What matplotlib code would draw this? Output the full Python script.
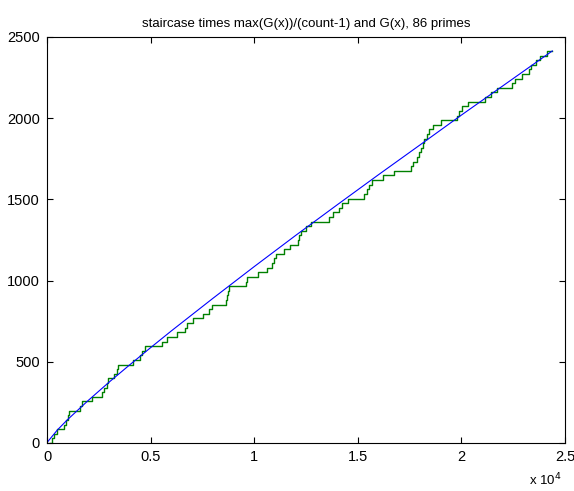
import numpy as np
import matplotlib
matplotlib.use("Agg")
import matplotlib.pyplot as plt

plt.rcParams["font.family"] = ["Liberation Sans", "DejaVu Sans"]

# x positions of the 86 steps
step_x = [145, 257, 354, 483, 837, 917, 998, 1062, 1593, 1673,
          2155, 2638, 2750, 2880, 2944, 3233, 3362, 3443, 4150, 4470,
          4600, 4714, 5535, 5806, 6259, 6660, 6742, 7061, 7544, 7833,
          7948, 8638, 8690, 8730, 8770, 9590, 9640, 10200, 10620, 10850,
          10950, 11030, 11440, 11750, 12110, 12150, 12240, 12500, 12727, 13620,
          13800, 14100, 14260, 14550, 15300, 15440, 15555, 15685, 16215, 16730,
          17550, 17647, 17872, 17970, 18035, 18130, 18195, 18325, 18450, 18645,
          19000, 19770, 19900, 20012, 20340, 21140, 21410, 21730, 22440, 22570,
          22923, 23247, 23343, 23585, 23807, 24115]
x_end = 24387

# smooth curve G(x), sampled from the blue line
g_x = [2, 500, 1000, 2000, 3000, 4000, 5000, 6000, 8000, 10000,
       12000, 14000, 16000, 18000, 20000, 22000, 24387]
g_y = [3, 80, 145, 263, 375, 482, 587, 690, 890, 1086,
       1278, 1466, 1652, 1835, 2019, 2199, 2414]

count = len(step_x)
scale = max(g_y) / (count - 1)
stair_x = step_x + [x_end]
stair_y = [k * scale for k in range(count)] + [(count - 1) * scale]

fig = plt.figure(figsize=(5.74, 4.91), dpi=100)
ax = fig.add_axes([0.0819, 0.0978, 0.9024, 0.8269])

ax.step(stair_x, stair_y, where="post", color="#008000", lw=1.0)
ax.plot(g_x, g_y, color="#0000ff", lw=0.8)

ax.set_xlim(0, 25000)
ax.set_ylim(0, 2500)
ax.set_xticks([0, 5000, 10000, 15000, 20000, 25000])
ax.set_xticklabels(["0", "0.5", "1", "1.5", "2", "2.5"])
ax.set_yticks([0, 500, 1000, 1500, 2000, 2500])
ax.tick_params(direction="in", top=True, right=True, length=4, width=0.8,
               labelsize=10.5, pad=5)
for s in ax.spines.values():
    s.set_linewidth(0.8)

ax.set_title("staircase times max(G(x))/(count-1) and G(x), 86 primes",
             fontsize=9.5, pad=7)
fig.text(0.922, 0.012, r"x 10$^{4}$", fontsize=9.5)

fig.savefig("out.png", dpi=100)
